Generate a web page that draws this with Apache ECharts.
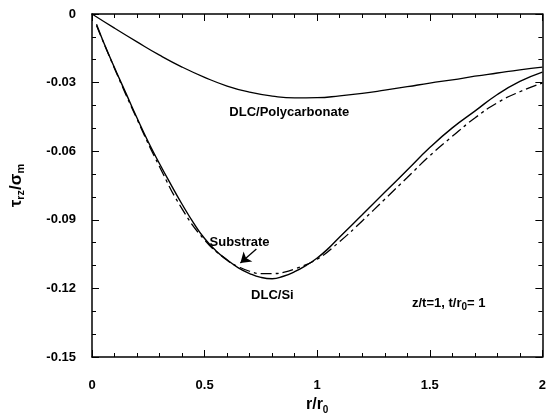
<!DOCTYPE html>
<html>
<head>
<meta charset="utf-8">
<script src="https://cdn.jsdelivr.net/npm/echarts@6/dist/echarts.min.js"></script>
<style>html,body{margin:0;padding:0;background:#fff;}#c{width:549px;height:420px;}</style>
</head>
<body>
<div id="c"></div>
<script>
// r/r0 sample positions
var rPoly = [0,0.1,0.2,0.3,0.4,0.5,0.6,0.7,0.8,0.9,1.0,1.1,1.2,1.3,1.4,1.5,1.6,1.7,1.8,1.9,2.0];
var vPoly = [0,-0.0062,-0.0122,-0.018,-0.0232,-0.0277,-0.0315,-0.0342,-0.0359,-0.0367,-0.0366,-0.0358,-0.0347,-0.0333,-0.0318,-0.0302,-0.0288,-0.0272,-0.0258,-0.0244,-0.0232];

var rSi = [0.02,0.05,0.1,0.15,0.2,0.25,0.3,0.35,0.4,0.45,0.5,0.55,0.6,0.65,0.7,0.75,0.8,0.85,0.9,0.95,1.0,1.05,1.1,1.2,1.3,1.4,1.5,1.6,1.7,1.8,1.9,2.0];
var vSi = [-0.0045,-0.012,-0.0235,-0.0345,-0.0455,-0.056,-0.0655,-0.0745,-0.0832,-0.0912,-0.0982,-0.1035,-0.1075,-0.111,-0.1135,-0.1152,-0.1158,-0.1147,-0.1127,-0.1100,-0.1067,-0.1025,-0.0975,-0.0878,-0.078,-0.0682,-0.0584,-0.0498,-0.0425,-0.0352,-0.0295,-0.0254];

var rSub = [0.02,0.1,0.2,0.3,0.4,0.5,0.6,0.65,0.7,0.75,0.8,0.85,0.9,1.0,1.1,1.2,1.3,1.4,1.5,1.6,1.7,1.8,1.9,2.0];
var vSub = [-0.005,-0.0238,-0.046,-0.0668,-0.0852,-0.0988,-0.1077,-0.1105,-0.1125,-0.1135,-0.1135,-0.113,-0.1115,-0.1072,-0.0995,-0.0905,-0.081,-0.0715,-0.062,-0.0535,-0.0455,-0.0388,-0.034,-0.0302];

var xTicks = [0,0.5,1,1.5,2];
var yTicks = [0,-0.03,-0.06,-0.09,-0.12,-0.15];

function pairs(a,b){ return a.map(function(x,i){return [x,b[i]];}); }

var FONT = 'Liberation Sans, Arial, sans-serif';
var chart = echarts.init(document.getElementById('c'), null, {renderer:'canvas'});

function axisCommon(showLabel){
  return {
    axisLine:{show:true, onZero:false, lineStyle:{color:'#000', width:1.5}},
    axisTick:{show:true, inside:true, length:7, lineStyle:{color:'#000', width:1}},
    splitLine:{show:false},
    axisLabel:{show:showLabel, color:'#000', fontFamily:FONT, fontSize:13, fontWeight:'bold'}
  };
}

var xa = Object.assign(axisCommon(true), {
  type:'value', min:xTicks[0], max:xTicks[xTicks.length-1], interval:0.5,
  minorTick:{show:true, splitNumber:5, length:4, lineStyle:{color:'#000', width:1}},
  name:'{a|r/r}{s|0}', nameLocation:'middle', nameGap:34,
  nameTextStyle:{rich:{a:{fontFamily:FONT, fontSize:16, fontWeight:'bold', color:'#000'}, s:{fontFamily:FONT, fontSize:10, fontWeight:'bold', color:'#000', verticalAlign:'bottom', padding:[10,0,0,0]}}}
});
xa.axisLabel.margin = 22;
xa.axisLabel.formatter = function(v){ return String(v); };

var xTop = Object.assign(axisCommon(false), {
  type:'value', position:'top', min:xTicks[0], max:xTicks[xTicks.length-1], interval:0.5,
  minorTick:{show:true, splitNumber:5, length:4, lineStyle:{color:'#000', width:1}}
});

var ya = Object.assign(axisCommon(true), {
  type:'value', min:yTicks[yTicks.length-1], max:yTicks[0], interval:0.03,
  minorTick:{show:true, splitNumber:3, length:4, lineStyle:{color:'#000', width:1}},
  name:'{a|τ}{s|rz}{a|/σ}{s|m}', nameLocation:'middle', nameGap:66,
  nameTextStyle:{rich:{a:{fontFamily:FONT, fontSize:17, fontWeight:'bold', color:'#000'}, s:{fontFamily:FONT, fontSize:11, fontWeight:'bold', color:'#000', padding:[8,0,0,0]}}}
});
ya.axisLabel.margin = 16;
ya.axisLabel.formatter = function(v){ return v === 0 ? '0' : (Math.round(v*100)/100).toFixed(2); };

var yRight = Object.assign(axisCommon(false), {
  type:'value', position:'right', min:yTicks[yTicks.length-1], max:yTicks[0], interval:0.03,
  minorTick:{show:true, splitNumber:3, length:4, lineStyle:{color:'#000', width:1}}
});

chart.setOption({
  animation:false,
  backgroundColor:'#fff',
  grid:{left:92, right:5, top:14, bottom:63},
  xAxis:[xa, xTop],
  yAxis:[ya, yRight],
  series:[
    {type:'line', name:'DLC/Polycarbonate', data:pairs(rPoly,vPoly), smooth:true, showSymbol:false,
     lineStyle:{color:'#000', width:1.3}},
    {type:'line', name:'DLC/Si', data:pairs(rSi,vSi), smooth:true, showSymbol:false,
     lineStyle:{color:'#000', width:1.4}},
    {type:'line', name:'Substrate', data:pairs(rSub,vSub), smooth:true, showSymbol:false,
     lineStyle:{color:'#000', width:1.3, type:[11,4,3,4]},
     markLine:{silent:true, symbol:['none','arrow'], symbolSize:10, label:{show:false},
       lineStyle:{color:'#000', width:1.3, type:'solid'},
       data:[[{coord:[0.730,-0.1028]},{coord:[0.659,-0.1089]}]]}}
  ]
});

function txt(r, v, content){
  var p = chart.convertToPixel({xAxisIndex:0, yAxisIndex:0}, [r, v]);
  return {type:'text', x:p[0], y:p[1], style:{text:content, rich:baseRich, fontFamily:FONT, fontSize:13, fill:'#000', align:'center', verticalAlign:'middle'}};
}
var baseRich = {n:{fontFamily:FONT, fontSize:13, fontWeight:'bold', color:'#000'}, s:{fontFamily:FONT, fontSize:10, fontWeight:'bold', color:'#000', padding:[9,0,0,0]}};
chart.setOption({
  graphic:[
    txt(0.876, -0.0429, '{n|DLC/Polycarbonate}'),
    txt(0.801, -0.1229, '{n|DLC/Si}'),
    txt(0.655, -0.1001, '{n|Substrate}'),
    txt(1.584, -0.1264, '{n|z/t=1, t/r}{s|0}{n|= 1}')
  ]
});
</script>
</body>
</html>
